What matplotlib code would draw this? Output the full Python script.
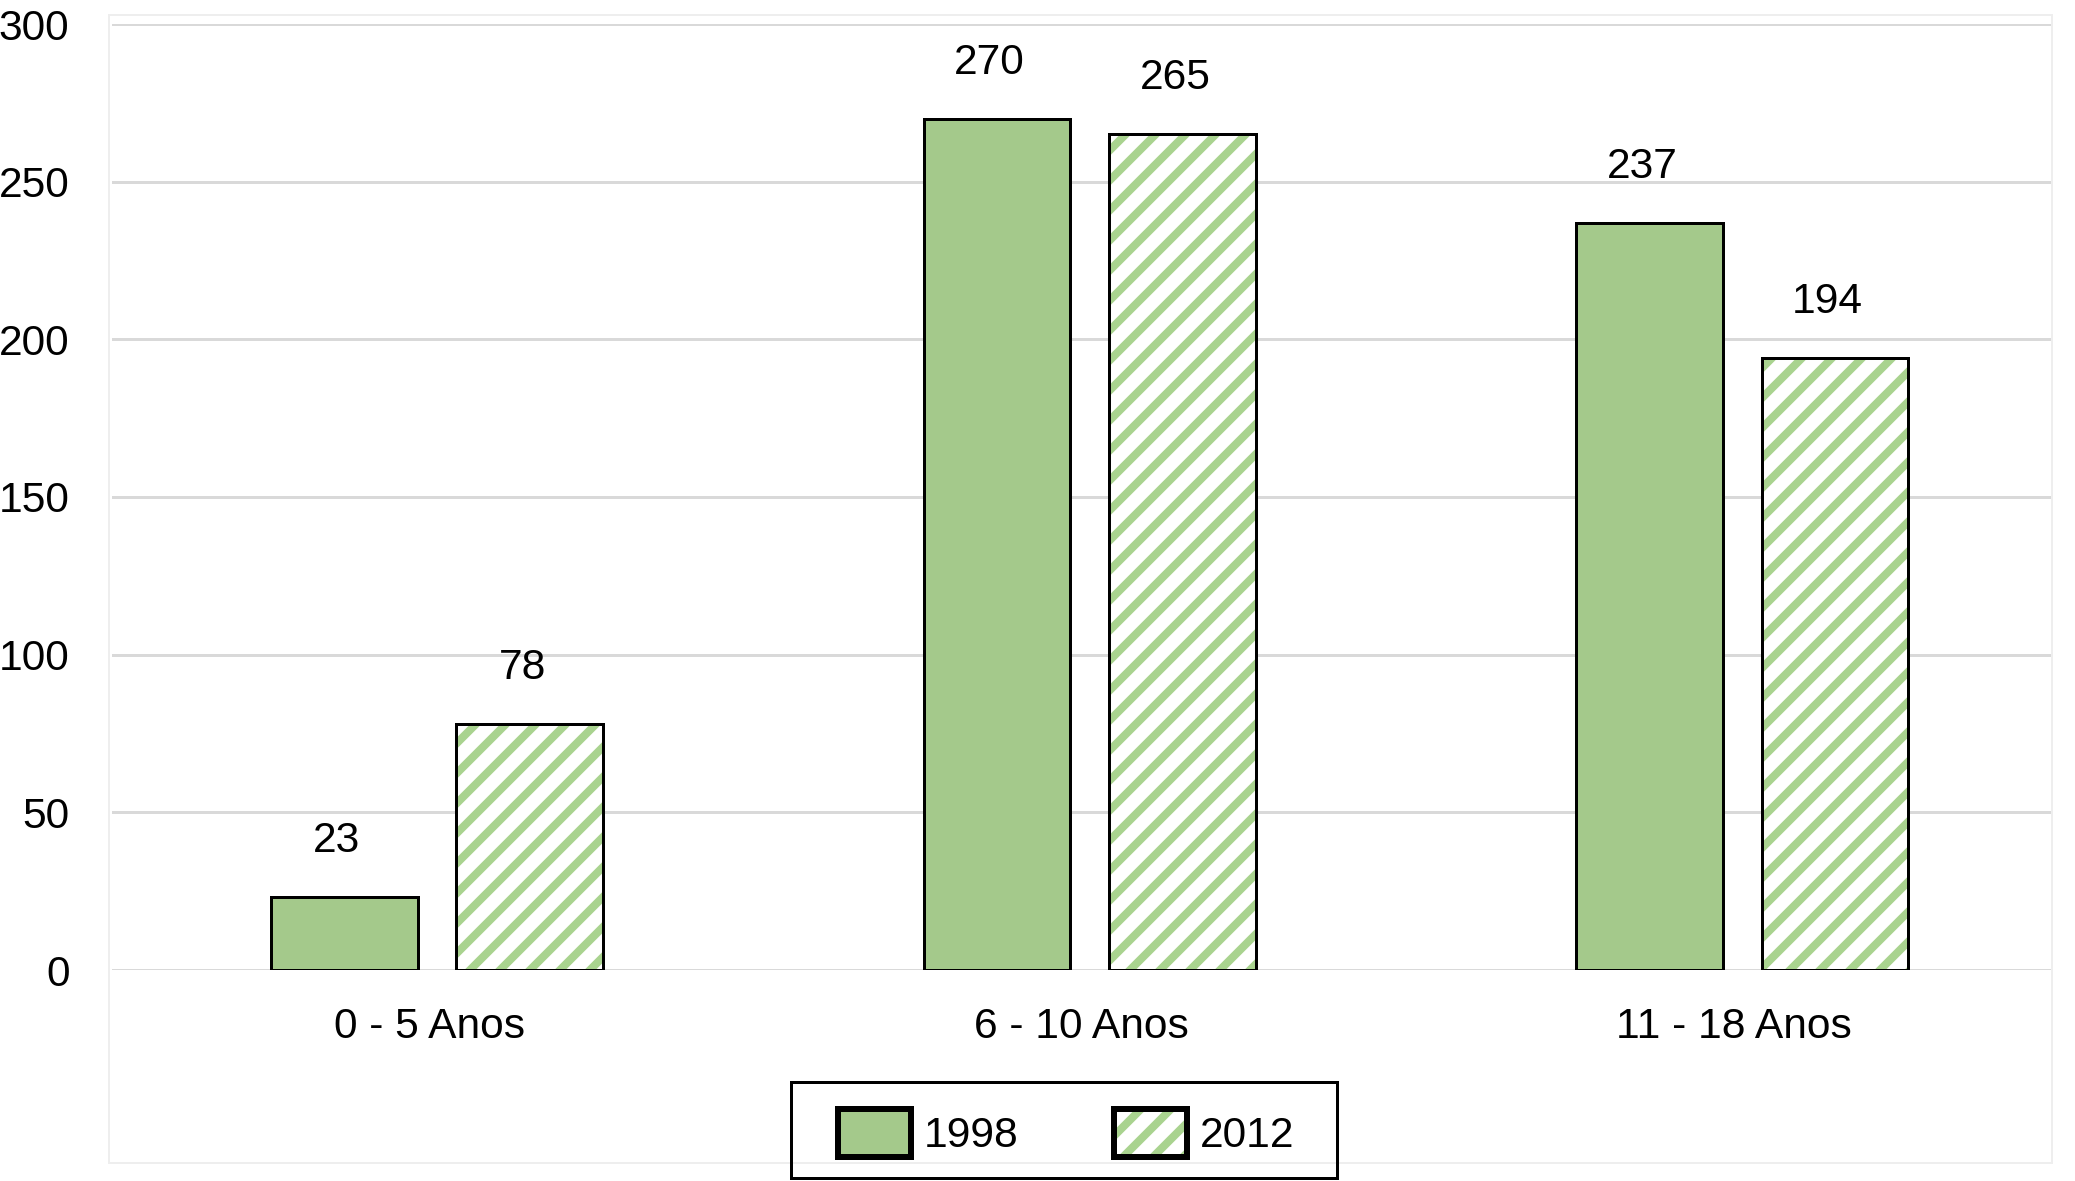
import numpy as np
import matplotlib
matplotlib.use('Agg')
import matplotlib.pyplot as plt
from matplotlib.patches import Patch, Rectangle
from matplotlib.legend_handler import HandlerTuple
from matplotlib.transforms import ScaledTranslation

FS = 17
plt.rcParams.update({
    'font.family': ['Liberation Sans', 'DejaVu Sans'],
    'font.size': FS,
    'hatch.linewidth': 3.2,
})

# ── data ──────────────────────────────────────────────────────────────────────
categories = ['0 - 5 Anos', '6 - 10 Anos', '11 - 18 Anos']
series     = ['1998', '2012']
vals_1998  = [23, 270, 237]
vals_2012  = [78, 265, 194]
yticks     = [0, 50, 100, 150, 200, 250, 300]

GREEN  = '#a4c98b'
STRIPE = '#a9d38f'
GRID   = '#d9d9d9'

# ── figure ────────────────────────────────────────────────────────────────────
DPI = 180
W, H = 2075, 1181
fig = plt.figure(figsize=(W / DPI, H / DPI), dpi=DPI, facecolor='white')
ax = fig.add_axes([112 / W, 1 - 970 / H, (2051 - 112) / W, (970 - 24) / H])

# light chart-area outline
fig.patches.append(Rectangle((109 / W, 1 - 1163 / H), (2052 - 109) / W,
                             (1163 - 15) / H, transform=fig.transFigure,
                             fill=False, edgecolor='#eeeeee', lw=0.8, zorder=0))

x  = np.arange(len(categories))
w  = 0.225
dx = 0.142

b1 = ax.bar(x - dx, vals_1998, w, color=GREEN, edgecolor='black', lw=1.2, zorder=3)
b2h = ax.bar(x + dx, vals_2012, w, color='white', edgecolor=STRIPE, hatch='//',
             lw=0, zorder=3)
b2e = ax.bar(x + dx, vals_2012, w, fill=False, edgecolor='black', lw=1.2, zorder=4)

for xs, vs in [(x - dx, vals_1998), (x + dx, vals_2012)]:
    for xi, v in zip(xs, vs):
        ax.annotate(f'{v}', xy=(xi, v), xytext=(-3, 22.4), textcoords='offset points',
                    ha='center', va='center', fontsize=FS, color='black')

ax.set_ylim(0, 300)
ax.set_xlim(-0.498, 2.473)
ax.set_yticks(yticks)
ax.set_xticks(x)
ax.set_xticklabels(categories)
ax.yaxis.grid(True, color=GRID, lw=1.2, zorder=0)
ax.set_axisbelow(True)
for s in ax.spines.values():
    s.set_visible(False)
ax.tick_params(axis='both', length=0, labelsize=FS, colors='black')
ax.tick_params(axis='y', pad=17)
ax.tick_params(axis='x', pad=15)
# category labels sit a little left of the bar-group centre in the original
shift = ScaledTranslation(-8 / DPI, 0, fig.dpi_scale_trans)
for lbl in ax.get_xticklabels():
    lbl.set_transform(lbl.get_transform() + shift)

# ── legend ────────────────────────────────────────────────────────────────────
h1 = Patch(facecolor=GREEN, edgecolor='black', lw=2.4)
h2a = Patch(facecolor='white', edgecolor=STRIPE, hatch='//', lw=0)
h2b = Patch(fill=False, edgecolor='black', lw=2.4)
leg = fig.legend([h1, (h2a, h2b)], series, loc='center',
                 bbox_to_anchor=(1066 / W, 1 - 1133 / H), ncol=2,
                 handler_map={tuple: HandlerTuple(ndivide=1, pad=0)},
                 handlelength=1.72, handleheight=1.38, handletextpad=0.3,
                 columnspacing=2.25, borderpad=0.4, frameon=False,
                 fontsize=FS)
fig.patches.append(Rectangle((791 / W, 1 - 1178 / H), (1337 - 791) / W,
                             (1178 - 1082) / H, transform=fig.transFigure,
                             fill=False, edgecolor='black', lw=1.2, zorder=5))

fig.savefig('out.png', dpi=DPI, facecolor='white')
